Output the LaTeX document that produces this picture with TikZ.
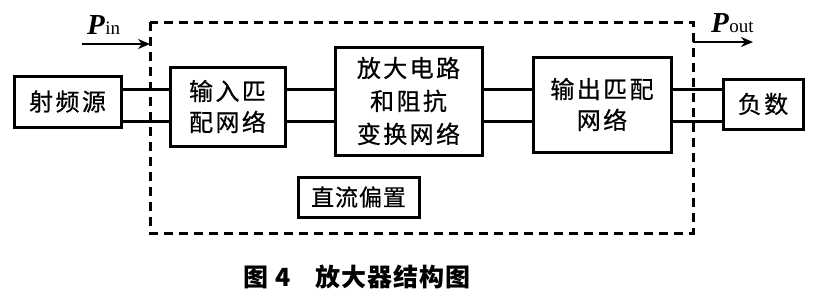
\documentclass[tikz,border=0pt]{standalone}
\usepackage{fontspec}
\setmainfont{Liberation Serif}
\newfontfamily\cjk[LetterSpace=10,FakeBold=0.6]{Noto Sans CJK SC}
\newfontfamily\cjkcap[LetterSpace=4,FakeBold=0.6]{Noto Sans CJK SC}
\newfontfamily\cjkfig[LetterSpace=4]{Noto Sans CJK SC}
\usetikzlibrary{arrows.meta}
\tikzset{
  blk/.style={draw, line width=3pt, inner sep=0pt, align=center,
    font=\cjk\fontsize{24}{31}\selectfont},
  wire/.style={line width=3pt},
  frame/.style={line width=3pt, dash pattern=on 9pt off 6pt},
  pw/.style={line width=2.6pt, -{Stealth[length=12pt,width=10pt]}},
  plabel/.style={inner sep=0pt, anchor=base west}
}
\begin{document}
\begin{tikzpicture}[x=1pt,y=-1pt]
\useasboundingbox (0,0) rectangle (818,303);
% boxes
\node[blk, minimum width=107pt, minimum height=51pt] (src) at (67.5,101.5) {射频源};
\node[blk, minimum width=115pt, minimum height=79pt] (inm) at (227.5,106.5) {输入匹\\配网络};
\node[blk, minimum width=147pt, minimum height=108pt, font=\cjk\fontsize{24}{33}\selectfont] (amp) at (408.5,101) {放大电路\\和阻抗\\变换网络};
\node[blk, minimum width=138pt, minimum height=95pt] (outm) at (602,104.5) {输出匹配\\网络};
\node[blk, minimum width=80pt, minimum height=50pt] (load) at (763,104) {负数};
\node[blk, minimum width=121pt, minimum height=40pt, font=\cjkcap\fontsize{23}{28}\selectfont] (dc) at (358.5,197) {直流偏置};
% wire levels
\coordinate (ya) at (0,89);
\coordinate (yb) at (0,121);
\foreach \a/\b in {src/inm, inm/amp, amp/outm, outm/load}{
  \draw[wire] (\a.east |- ya) -- (\b.west |- ya);
  \draw[wire] (\a.east |- yb) -- (\b.west |- yb);
}
% dashed frame
\coordinate (ftl) at (150,22);
\coordinate (fbr) at (693,233);
\draw[frame] (ftl) rectangle (fbr);
% power arrows
\coordinate (pinA) at (82,44);
\coordinate (pinB) at (150,44);
\draw[pw] (pinA) -- (pinB);
\coordinate (poutA) at (693,42);
\coordinate (poutB) at (753,42);
\draw[pw] (poutA) -- (poutB);
\node[plabel] (pin) at (87,34) {\fontsize{29}{29}\selectfont\bfseries\itshape P\kern0.5pt\fontsize{19}{19}\selectfont\mdseries\upshape in};
\node[plabel] (pout) at (711,32) {\fontsize{29}{29}\selectfont\bfseries\itshape P\kern0.5pt\fontsize{19}{19}\selectfont\mdseries\upshape out};
% caption
\node[font=\cjkfig\bfseries\fontsize{25}{25}\selectfont] (cap) at (357,277) {图\;4\quad 放大器结构图};
\end{tikzpicture}
\end{document}
